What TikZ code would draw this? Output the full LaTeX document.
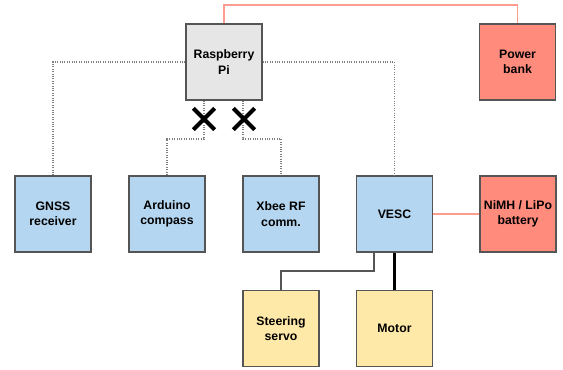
\documentclass[tikz,border=0pt]{standalone}
\usepackage{fontspec}
\setmainfont{Liberation Sans}
\usetikzlibrary{shapes.misc}

\definecolor{pigray}{HTML}{E6E6E6}
\definecolor{sensorblue}{HTML}{B4D6F0}
\definecolor{powerred}{HTML}{FF8B7D}
\definecolor{wirered}{HTML}{FF9C90}
\definecolor{actyellow}{HTML}{FFE9A8}
\definecolor{edgegray}{HTML}{555555}

\begin{document}
\begin{tikzpicture}[x=0.75pt, y=-0.75pt]
        \tikzset{box/.style = {shape=rectangle, draw=edgegray, line width=0.9pt,
                 minimum size=57pt, inner sep=0pt, align=center,
                 font=\fontsize{9.2}{11.5}\selectfont\bfseries}}
        \tikzset{pibox/.style = {box, fill=pigray}}
        \tikzset{sensor/.style = {box, fill=sensorblue}}
        \tikzset{power/.style = {box, fill=powerred}}
        \tikzset{actuator/.style = {box, fill=actyellow}}
        \tikzset{link/.style = {draw=gray, densely dotted, line width=0.8pt}}
        \tikzset{supply/.style = {draw=wirered, line width=1pt}}
        \tikzset{wire/.style = {draw=edgegray, line width=0.8pt}}
        \tikzset{cut/.style = {shape=cross out, draw=black, line width=3pt,
                 minimum size=13pt, inner sep=0pt}}

        \useasboundingbox (0,0) rectangle (563,369);

        \node[pibox] (pi) at (224, 62) {Raspberry\\Pi};
        \node[power] (bank) at (517.5, 62) {Power\\bank};

        \node[sensor] (gnss) at (53, 214) {GNSS\\receiver};
        \node[sensor] (arduino) at (167, 214) {Arduino\\compass};
        \node[sensor] (xbee) at (281, 214) {Xbee RF\\comm.};
        \node[sensor] (vesc) at (394.5, 214) {VESC};
        \node[power] (battery) at (518, 214) {NiMH / LiPo\\battery};

        \node[actuator] (servo) at (281, 328.5) {Steering\\servo};
        \node[actuator] (motor) at (394.5, 328.5) {Motor};

        \coordinate (top) at (224, 5);
        \coordinate (ja) at (204, 139);
        \coordinate (jb) at (243, 139);
        \coordinate (js) at (374, 271);

        \draw[supply] (pi.north) -- (top) -| (bank.north);
        \draw[supply] (vesc.east) -- (battery.west);

        \draw[link] (pi.west) -| (gnss.north);
        \draw[link] (pi.east) -| (vesc.north);
        \draw[link] (ja |- pi.south) -- (ja) -| (arduino.north);
        \draw[link] (jb |- pi.south) -- (jb) -| (xbee.north);

        \node[cut] (cuta) at (204, 119) {};
        \node[cut] (cutb) at (244, 119) {};

        \draw[wire] (js |- vesc.south) -- (js) -| (servo.north);
        \draw[line width=2.2pt] (vesc.south) -- (motor.north);

    \end{tikzpicture}
\end{document}
